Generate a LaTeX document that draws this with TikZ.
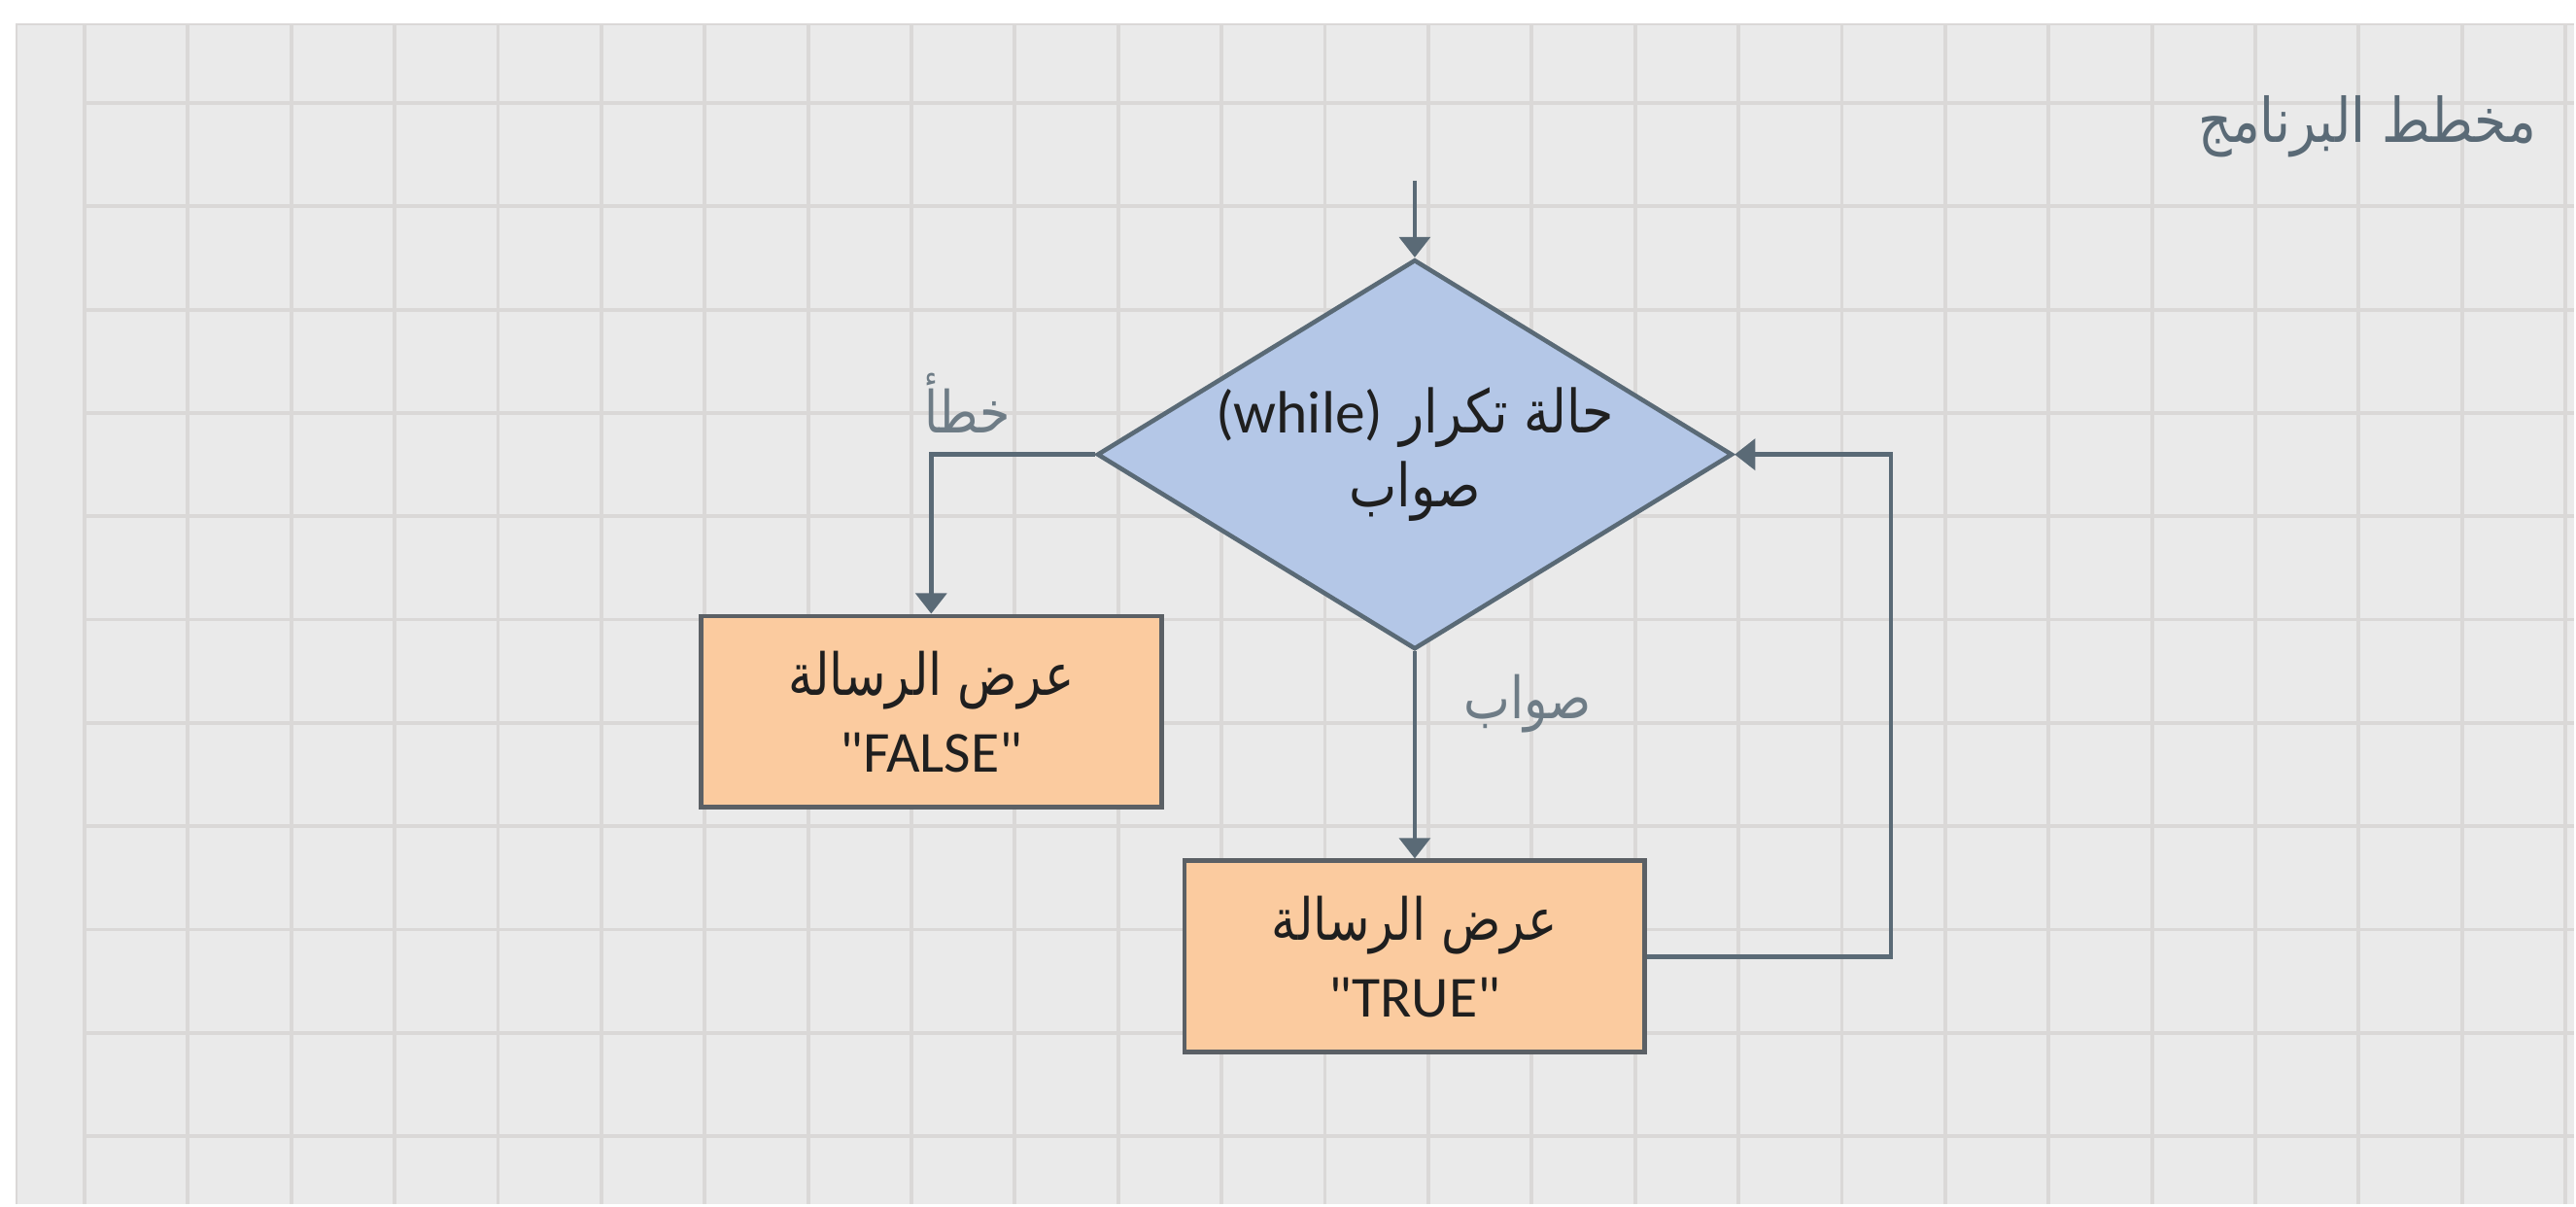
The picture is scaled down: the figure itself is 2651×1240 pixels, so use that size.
\documentclass[tikz,border=0pt]{standalone}
\usepackage{fontspec}
\setmainfont{Carlito}[Ligatures=TeXOff]
\newfontfamily\arabicfont[Script=Arabic, FakeStretch=0.85]{DejaVu Sans}
\TeXXeTstate=1
\usetikzlibrary{shapes.geometric, arrows.meta, positioning}
\definecolor{paper}{HTML}{EAEAEA}
\definecolor{gridline}{HTML}{DAD8D7}
\definecolor{slate}{HTML}{5A6A76}
\definecolor{boxedge}{HTML}{5B6065}
\definecolor{decfill}{HTML}{B4C7E7}
\definecolor{boxfill}{HTML}{FBCB9F}
\definecolor{labelgray}{HTML}{6E7C86}
\newcommand{\artext}[1]{{\arabicfont\beginR #1\endR}}

\begin{document}
\begin{tikzpicture}[
  x=0.01cm, y=-0.01cm,
  node distance=2.13cm,
  decision/.style={diamond, draw=slate, fill=decfill, line width=1.3pt, aspect=1.63, minimum width=6.54cm, minimum height=4.01cm, inner sep=0pt, align=center, font=\fontsize{17.5}{21.5}\selectfont, text=black!88},
  msgbox/.style={rectangle, draw=boxedge, fill=boxfill, line width=1.4pt, minimum width=4.74cm, minimum height=1.97cm, align=center, font=\fontsize{17}{22.5}\selectfont, text=black!88},
  line/.style={draw=slate, line width=1.3pt, -{Triangle[length=6pt, width=9pt]}},
  tag/.style={text=labelgray, font=\fontsize{17}{19}\selectfont, inner sep=0pt}
]
  % grid paper
  \fill[white] (0,0) rectangle (2651,1240);
  \fill[paper] (17,25) rectangle (2651,1240);
  \draw[gridline, line width=0.6pt] (17,1240) -- (17,25) -- (2651,25);
  \foreach \i in {0,...,24}
    \draw[gridline, line width=1.1pt] ({87+106.46*\i},25) -- ({87+106.46*\i},1240);
  \foreach \j in {0,...,10}
    \draw[gridline, line width=1.1pt] (87,{106+106.4*\j}) -- (2651,{106+106.4*\j});

  \node[tag, text=slate, font=\fontsize{18}{20}\selectfont] (title) at (2438,130) {\artext{مخطط البرنامج}};

  % flowchart
  \coordinate (entry) at (1457,186);
  \node[decision] (cond) at (1457,468) {\artext{حالة تكرار {\rmfamily\beginL(while)\endL}}\\\artext{صواب}};
  \node[msgbox, below=of cond] (truebox) {\artext{عرض الرسالة}\\"TRUE"};
  \node[msgbox] (falsebox) at (959,733) {\artext{عرض الرسالة}\\"FALSE"};

  \draw[line] (entry) -- (cond.north);
  \draw[line] (cond.west) -| node[tag, pos=0.39, above=0.2cm] {\artext{خطأ}} (falsebox.north);
  \draw[line] (cond.south) -- node[tag, pos=0.25, right=0.48cm] {\artext{صواب}} (truebox.north);
  \draw[line] (truebox.east) -- ++(251,0) |- (cond.east);
\end{tikzpicture}
\end{document}
